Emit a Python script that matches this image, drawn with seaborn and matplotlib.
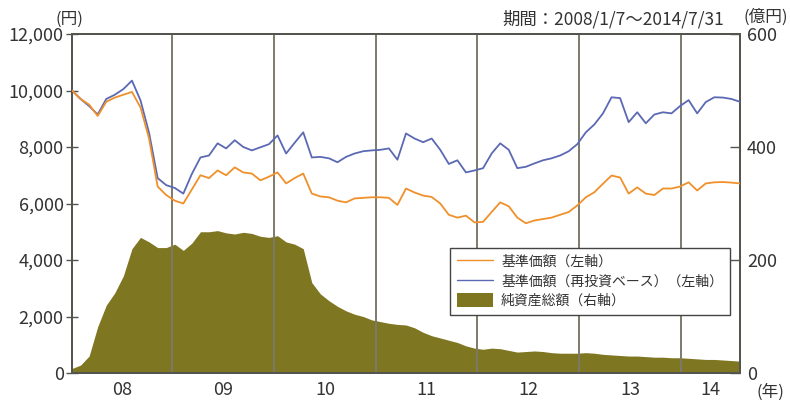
import seaborn as sns
import matplotlib.pyplot as plt
from matplotlib.lines import Line2D
from matplotlib.patches import Patch
from matplotlib.ticker import FuncFormatter
import numpy as np
import pandas as pd

# monthly readings, 2008/1 .. 2014/7
nav = [10000, 9700, 9500, 9100, 9600, 9750, 9850, 9950, 9400, 8300, 6600, 6300,
       6100, 6000, 6500, 7000, 6900, 7170, 7000, 7280, 7100, 7060, 6820, 6950,
       7100, 6710, 6900, 7060, 6350, 6250, 6220, 6100, 6040, 6180, 6200, 6220,
       6220, 6200, 5950, 6530, 6390, 6280, 6230, 6000, 5600, 5500, 5570, 5330,
       5350, 5700, 6040, 5900, 5500, 5300, 5400, 5450, 5500, 5600, 5700, 5930,
       6220, 6400, 6700, 6990, 6920, 6350, 6570, 6350, 6300, 6530, 6530, 6600,
       6750, 6460, 6710, 6750, 6760, 6740, 6710]
nav_reinv = [10000, 9700, 9450, 9150, 9700, 9850, 10050, 10350, 9650, 8500, 6900, 6650,
             6550, 6350, 7050, 7630, 7700, 8130, 7950, 8240, 8000, 7880, 7990, 8100,
             8410, 7770, 8150, 8520, 7630, 7650, 7600, 7460, 7650, 7770, 7850, 7880,
             7900, 7950, 7550, 8480, 8300, 8170, 8300, 7900, 7400, 7530, 7100, 7170,
             7250, 7770, 8130, 7900, 7250, 7300, 7420, 7530, 7600, 7700, 7850, 8100,
             8520, 8800, 9190, 9760, 9730, 8880, 9230, 8840, 9150, 9230, 9190, 9450,
             9660, 9190, 9590, 9760, 9750, 9700, 9600]
net_assets = [8, 14, 30, 82, 120, 142, 172, 220, 240, 232, 222, 222,
              228, 217, 230, 250, 250, 252, 248, 246, 249, 247, 242, 240,
              243, 232, 228, 220, 160, 140, 128, 118, 110, 104, 100, 94,
              91, 88, 86, 85, 80, 72, 66, 62, 58, 54, 48, 44,
              42, 44, 43, 40, 37, 38, 39, 38, 36, 35, 35, 35,
              36, 35, 33, 32, 31, 30, 30, 29, 28, 28, 27, 27,
              26, 25, 24, 24, 23, 22, 21]
year_labels = ['08', '09', '10', '11', '12', '13', '14']
left_ticks = [0, 2000, 4000, 6000, 8000, 10000, 12000]
right_ticks = [0, 200, 400, 600]
series_names = ['基準価額（左軸）', '基準価額（再投資ベース）（左軸）', '純資産総額（右軸）']

start, end = pd.Timestamp('2008-01-07'), pd.Timestamp('2014-07-31')
dates = pd.date_range(start, end, periods=len(nav))
df = pd.DataFrame({'date': dates, 'nav': nav, 'reinv': nav_reinv, 'assets': net_assets})

bg = '#FCF3CE'
c_orange = '#F0902A'
c_blue = '#5B69B4'
c_olive = '#7F7622'
c_sep = '#7D7A6A'
c_spine = '#555550'
c_text = '#333333'

sns.set_style('white')
plt.rcParams['font.family'] = ['Noto Sans CJK JP', 'DejaVu Sans']

fig = plt.figure(figsize=(7.9, 4.0), dpi=100)
ax = fig.add_axes([72/790, 1-373/400, 668/790, 339/400])
ax2 = ax.twinx()
ax.set_zorder(2)
ax2.set_zorder(1)
ax.patch.set_visible(False)
ax2.patch.set_facecolor(bg)

# net assets area on right axis
ax2.fill_between(df['date'], df['assets'], 0, color=c_olive, lw=0)
ax2.set_ylim(0, 600)
ax2.set_yticks(right_ticks)
ax2.tick_params(axis='y', direction='in', length=7, width=1, color=c_spine,
                labelsize=13, pad=5, labelcolor=c_text)

# year separators
for y in range(2009, 2015):
    ax.axvline(pd.Timestamp(f'{y}-01-01'), color=c_sep, lw=1.4, zorder=1)

sns.lineplot(data=df, x='date', y='reinv', ax=ax, color=c_blue, lw=1.3, legend=False, zorder=3)
sns.lineplot(data=df, x='date', y='nav', ax=ax, color=c_orange, lw=1.3, legend=False, zorder=4)

ax.set_xlim(start, end)
ax2.set_xlim(start, end)
ax.set_ylim(0, 12000)
ax.set_yticks(left_ticks)
ax.yaxis.set_major_formatter(FuncFormatter(lambda v, p: f'{int(v):,}'))
ax.tick_params(axis='y', direction='inout', length=8, width=1, color=c_spine,
               labelsize=13, pad=2, labelcolor=c_text)

bounds = [start] + [pd.Timestamp(f'{y}-01-01') for y in range(2009, 2015)] + [end]
mids = [bounds[i] + (bounds[i+1] - bounds[i]) / 2 for i in range(len(bounds) - 1)]
ax.set_xticks(mids)
ax.set_xticklabels(year_labels)
ax.tick_params(axis='x', length=0, labelsize=13, pad=6, labelcolor=c_text)
ax.set(xlabel=None, ylabel=None)
ax2.set(xlabel=None, ylabel=None)

for a in (ax, ax2):
    for s in a.spines.values():
        s.set_color(c_spine)
        s.set_linewidth(1.4)

handles = [Line2D([], [], color=c_orange, lw=1),
           Line2D([], [], color=c_blue, lw=1),
           Patch(facecolor=c_olive, edgecolor='none')]
leg = ax.legend(handles, series_names, loc='upper left', bbox_to_anchor=(0.555, 0.39),
                fontsize=10, frameon=True, fancybox=False, framealpha=1,
                edgecolor='#444444', facecolor='white', handlelength=2.6,
                handleheight=1.1, labelspacing=0.35, borderpad=0.5, handletextpad=0.6,
                labelcolor=c_text)
leg.get_frame().set_linewidth(1.0)

fig.text(69/790, 1-19/400, '(円)', ha='center', va='center', fontsize=12, color=c_text)
fig.text(766/790, 1-17/400, '(億円)', ha='center', va='center', fontsize=12, color=c_text)
fig.text(724/790, 1-19/400, '期間：2008/1/7～2014/7/31', ha='right', va='center',
         fontsize=12.5, color=c_text)
fig.text(770/790, 1-392/400, '(年)', ha='center', va='center', fontsize=12, color=c_text)

fig.savefig('out.png', dpi=100, facecolor='white')
